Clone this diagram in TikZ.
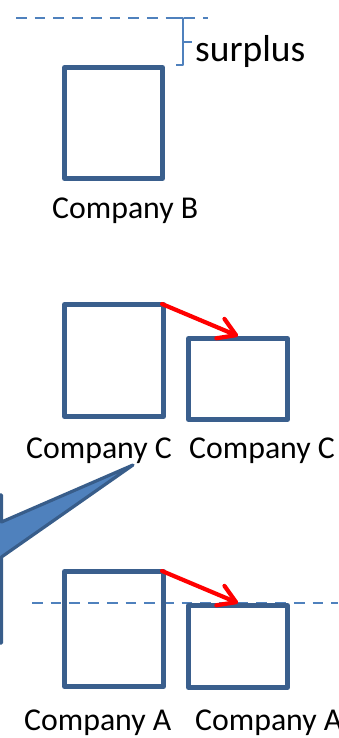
\documentclass[tikz,border=0pt]{standalone}
\usepackage{fontspec}
\setmainfont{Carlito}
\usetikzlibrary{arrows.meta,calc}
\definecolor{boxblue}{HTML}{3A5F8D}
\definecolor{lineblue}{HTML}{4F81BD}
\definecolor{calloutedge}{HTML}{385D8A}
\begin{document}
\begin{tikzpicture}[x=1pt,y=-1pt,
  firm/.style={draw=boxblue, line width=5pt, line join=round, inner sep=0pt, fill=none},
  lbl/.style={font=\fontsize{31.8}{38}\selectfont, anchor=base west, inner sep=0pt, text=black},
  level/.style={draw=lineblue, line width=2.6pt, dash pattern=on 10.7pt off 8pt},
  brace/.style={draw=lineblue, line width=2.3pt, line join=round},
  move/.style={draw=red, line width=4.2pt, line cap=round,
    -{Straight Barb[length=17pt,width=21pt,round]}},
  bubble/.style={fill=lineblue, draw=calloutedge, line width=3.2pt, line join=round},
]
\useasboundingbox (0,0) rectangle (338,738);

% reference level and surplus bracket
\coordinate (topL) at (16,18);
\coordinate (topR) at (208,18);
\draw[level] (topL) -- (topR);
\draw[brace] (176,18) -- (183,18) -- (183,65) -- (176,65);
\draw[brace] (183,42) -- (192,42);
\node[lbl, font=\fontsize{37.5}{45}\selectfont] (surplus) at (195,62) {surplus};

% company B
\node[firm, minimum width=98pt, minimum height=111pt] (B) at (113.5,123) {};
\node[lbl] (lB) at (52,218) {Company B};

% company C, before and after
\node[firm, minimum width=99pt, minimum height=112pt] (C1) at (114,360.5) {};
\node[firm, minimum width=99pt, minimum height=81pt] (C2) at (238,379) {};
\node[lbl] (lC1) at (26,458) {Company C};
\node[lbl] (lC2) at (189,458) {Company C};
\draw[move] ([shift={(-4,2)}]C1.north east) -- (C2.north);

% callout pointing at company C
\coordinate (tip) at (133,465);
\begin{scope}
  \clip (0,0) rectangle (338,738);
  \filldraw[bubble] (-60,495) -- (1.5,495) -- (1.5,522) -- (tip) -- (1.5,557)
    -- (1.5,643) -- (-60,643) -- cycle;
\end{scope}

% company A, before and after
\coordinate (lowL) at (32,603);
\coordinate (lowR) at (338,603);
\draw[level] (lowL) -- (lowR);
\node[firm, minimum width=99pt, minimum height=115pt] (A1) at (114,629) {};
\node[firm, minimum width=99pt, minimum height=82pt] (A2) at (238,646.5) {};
\node[lbl] (lA1) at (24,730) {Company A};
\node[lbl] (lA2) at (195,730) {Company A};
\draw[move] ([shift={(-4,2)}]A1.north east) -- (A2.north);
\end{tikzpicture}
\end{document}
